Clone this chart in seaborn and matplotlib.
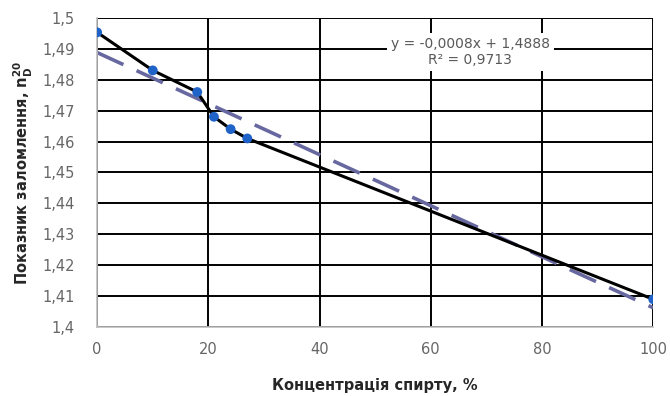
# plot.py
# Refractive index vs alcohol concentration, with linear trendline

import numpy as np
import pandas as pd
import matplotlib
matplotlib.use('Agg')
import matplotlib.pyplot as plt
from matplotlib.ticker import FuncFormatter, MultipleLocator
import seaborn as sns

# ── Data ───────────────────────────────────────────────
concentration = [0, 10, 18, 21, 24, 27, 100]
refr_index = [1.4953, 1.483, 1.476, 1.468, 1.464, 1.461, 1.409]

trend_text = "y = -0,0008x + 1,4888\nR² = 0,9713"
x_label = "Концентрація спирту, %"
y_label = r"Показник заломлення, $\mathregular{n_D^{20}}$"

df = pd.DataFrame({"x": concentration, "y": refr_index})

sns.set_style("white")
plt.rcParams['font.family'] = ['DejaVu Sans']

fig = plt.figure(figsize=(6.7, 3.96), dpi=100)
ax = fig.add_axes([0.145, 0.174, 0.83, 0.781])

# Solid line through the measured points
sns.lineplot(data=df, x="x", y="y", ax=ax, color="black",
             linewidth=2.2, zorder=3)

# Linear trendline (dashed)
sns.regplot(data=df, x="x", y="y", ax=ax, scatter=False, ci=None,
            line_kws=dict(color="#6868A0", linewidth=2.6,
                          dashes=(8, 4)), truncate=True)
ax.lines[-1].set_zorder(2)

# Markers
sns.scatterplot(data=df, x="x", y="y", ax=ax, color="#1F62C8",
                s=50, edgecolor="none", zorder=4)

ax.set_xlim(0, 100)
ax.set_ylim(1.4, 1.5)
ax.xaxis.set_major_locator(MultipleLocator(20))
ax.yaxis.set_major_locator(MultipleLocator(0.01))


def comma_fmt(v, pos):
    s = f"{v:.2f}".rstrip('0').rstrip('.')
    return s.replace('.', ',')


ax.yaxis.set_major_formatter(FuncFormatter(comma_fmt))
ax.xaxis.set_major_formatter(FuncFormatter(lambda v, p: f"{v:.0f}"))

# Gridlines: black, both directions
ax.grid(True, color="black", linewidth=1.4)
ax.set_axisbelow(True)

for side in ["top", "right"]:
    ax.spines[side].set_visible(False)
for side in ["left", "bottom"]:
    ax.spines[side].set_color("#BFBFBF")
    ax.spines[side].set_linewidth(1.2)

ax.tick_params(axis="y", length=0, labelsize=10.5,
               labelcolor="#666666", pad=16)
ax.tick_params(axis="x", length=0, labelsize=10.5,
               labelcolor="#666666", pad=11)

ax.set_xlabel(x_label, fontsize=10.5, fontweight="bold",
              color="#262626", labelpad=15)
ax.set_ylabel(y_label, fontsize=10.5, fontweight="bold",
              color="#262626", labelpad=5)

ax.text(0.671, 0.89, trend_text, transform=ax.transAxes,
        ha="center", va="center", fontsize=10, color="#595959",
        linespacing=1.2, zorder=5,
        bbox=dict(facecolor="white", edgecolor="none", pad=3))

plt.savefig("out.png", dpi=100)
plt.close()
